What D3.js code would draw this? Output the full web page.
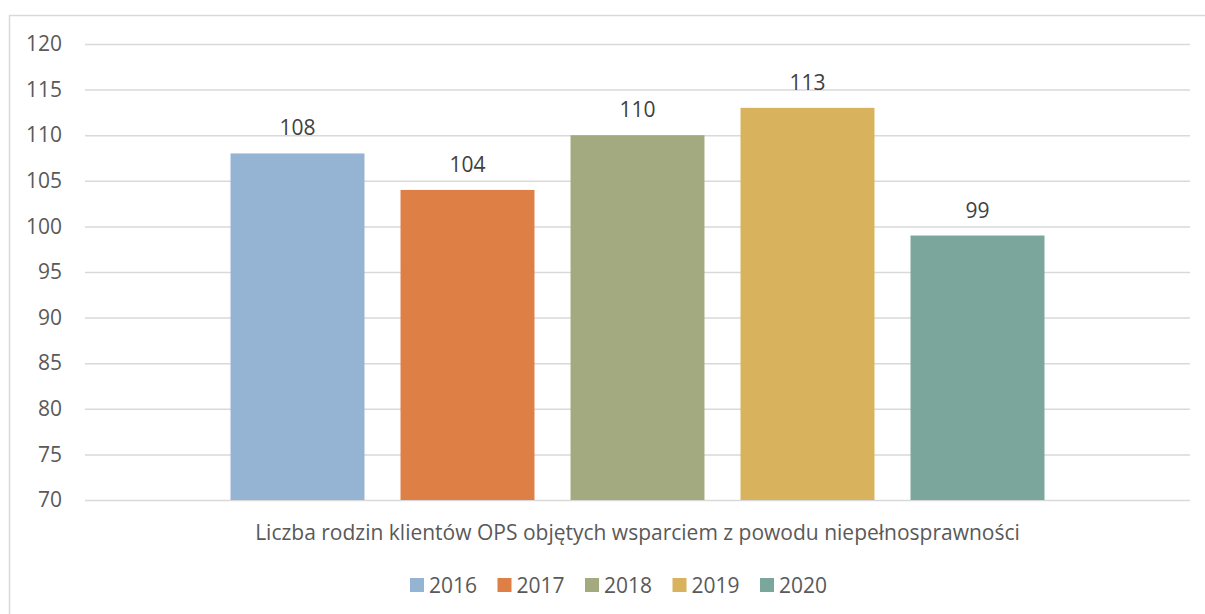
<!DOCTYPE html>
<html>
<head>
<meta charset="utf-8">
<script src="https://cdn.jsdelivr.net/npm/d3@7"></script>
<style>
  body { margin: 0; background: #fff; }
  text { font-family: "Open Sans", sans-serif; }
</style>
</head>
<body>
<div id="chart"></div>
<script>
var category = "Liczba rodzin klientów OPS objętych wsparciem z powodu niepełnosprawności";
var years = ["2016", "2017", "2018", "2019", "2020"];
var values = [108, 104, 110, 113, 99];
var colors = ["#95b3d2", "#de7f46", "#a4aa7f", "#d8b25d", "#7ba69b"];
var yTicks = [70, 75, 80, 85, 90, 95, 100, 105, 110, 115, 120];

var W = 1205, H = 614;
var margin = {top: 44, right: 15, bottom: 114, left: 85},
  width = W - margin.left - margin.right,
  height = H - margin.top - margin.bottom;

var svg = d3.select("#chart")
  .append("svg")
  .attr("width", W)
  .attr("height", H);

// chart border
svg.append("rect")
  .attr("x", 9.5).attr("y", 15.5)
  .attr("width", W + 10).attr("height", H + 10)
  .attr("fill", "none")
  .attr("stroke", "#d9d9d9")
  .attr("stroke-width", 1.5);

var g = svg.append("g")
  .attr("transform", "translate(" + margin.left + "," + margin.top + ")");

var y = d3.scaleLinear()
  .domain([70, 120])
  .range([height, 0]);

var x = d3.scaleBand()
  .domain(years)
  .range([0, width])
  .paddingInner(0.212)
  .paddingOuter(0.856);

// gridlines + labels
g.append("g")
  .call(d3.axisLeft(y).tickValues(yTicks).tickSize(-width).tickPadding(23))
  .call(function(a) {
    a.select(".domain").remove();
    a.selectAll(".tick line").attr("stroke", "#d9d9d9").attr("stroke-width", 1.5);
    a.selectAll(".tick text")
      .attr("fill", "#595959")
      .style("font-size", "21px");
  });

// bars
g.selectAll(".bar")
  .data(values)
  .enter()
  .append("rect")
  .attr("x", function(d, i) { return x(years[i]); })
  .attr("y", function(d) { return y(d); })
  .attr("width", x.bandwidth())
  .attr("height", function(d) { return height - y(d); })
  .attr("fill", function(d, i) { return colors[i]; });

// data labels
g.selectAll(".lbl")
  .data(values)
  .enter()
  .append("text")
  .attr("x", function(d, i) { return x(years[i]) + x.bandwidth() / 2; })
  .attr("y", function(d) { return y(d) - 18; })
  .attr("text-anchor", "middle")
  .attr("fill", "#404040")
  .style("font-size", "21px")
  .text(function(d) { return d; });

// category label
g.append("text")
  .attr("x", width / 2)
  .attr("y", height + 40)
  .attr("text-anchor", "middle")
  .attr("fill", "#595959")
  .style("font-size", "21px")
  .text(category);

// legend
var legend = svg.append("g")
  .attr("transform", "translate(410,578)");

var item = legend.selectAll(".item")
  .data(years)
  .enter()
  .append("g")
  .attr("transform", function(d, i) { return "translate(" + (i * 87.5) + ",0)"; });

item.append("rect")
  .attr("width", 14).attr("height", 14)
  .attr("fill", function(d, i) { return colors[i]; });

item.append("text")
  .attr("x", 19)
  .attr("y", 15)
  .attr("fill", "#595959")
  .style("font-size", "21px")
  .text(function(d) { return d; });
</script>
</body>
</html>
